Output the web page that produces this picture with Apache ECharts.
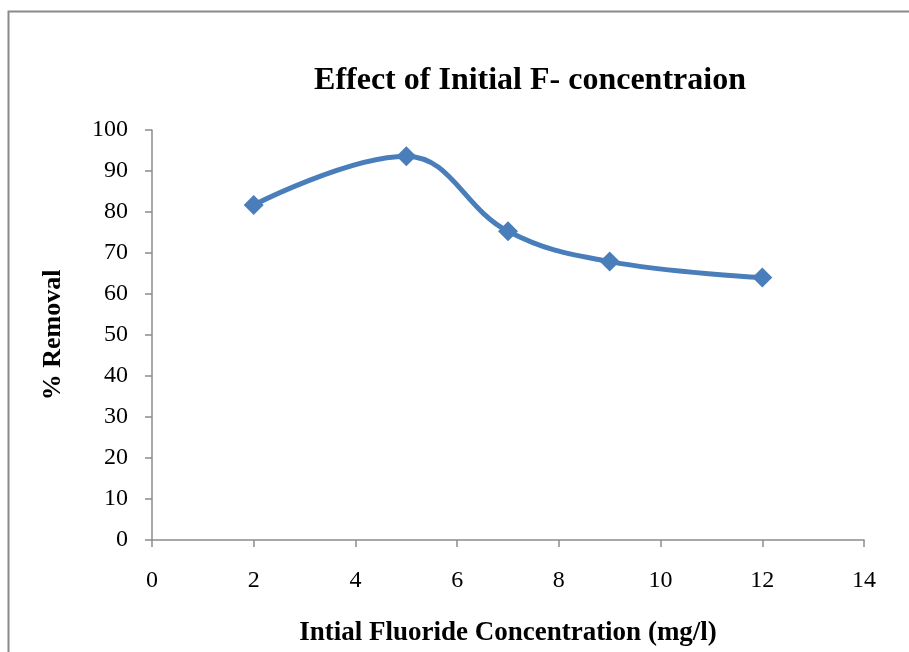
<!DOCTYPE html>
<html>
<head>
<meta charset="utf-8">
<script src="https://cdn.jsdelivr.net/npm/echarts@6/dist/echarts.min.js"></script>
<style>
  html, body { margin: 0; padding: 0; background: #fff; overflow: hidden; }
  #chart { width: 909px; height: 652px; }
</style>
</head>
<body>
<div id="chart"></div>
<script>
// Initial fluoride concentration (mg/l) and percentage removal
const concentration = [2, 5, 7, 9, 12];
const removal = [81.7, 93.6, 75.3, 67.9, 64.0];
const xTicks = [0, 2, 4, 6, 8, 10, 12, 14];
const yTicks = [0, 10, 20, 30, 40, 50, 60, 70, 80, 90, 100];

const serif = '"Liberation Serif", "Times New Roman", serif';
const axisGray = '#8c8c8c';

const chart = echarts.init(document.getElementById('chart'), null, { renderer: 'canvas' });
chart.setOption({
  animation: false,
  backgroundColor: '#fff',
  graphic: [{
    type: 'polyline',
    shape: { points: [[8.5, 660], [8.5, 11.5], [915, 11.5]] },
    style: { stroke: '#8a8a8a', lineWidth: 2, fill: null },
    silent: true
  }],
  title: {
    text: 'Effect of Initial F- concentraion',
    left: 525, top: 60, textAlign: 'center',
    textStyle: { fontFamily: serif, fontWeight: 'bold', fontSize: 32, color: '#000' }
  },
  grid: { left: 152, right: 45, top: 130, bottom: 110, containLabel: false },
  xAxis: {
    type: 'value',
    min: xTicks[0], max: xTicks[xTicks.length - 1], interval: 2,
    name: 'Intial Fluoride Concentration (mg/l)',
    nameLocation: 'middle', nameGap: 80,
    nameTextStyle: { fontFamily: serif, fontWeight: 'bold', fontSize: 27, color: '#000' },
    axisLine: { show: true, onZero: false, lineStyle: { color: axisGray, width: 1.5 } },
    axisTick: { show: true, inside: false, length: 7, lineStyle: { color: axisGray, width: 1.5 } },
    axisLabel: { margin: 29, fontFamily: serif, fontSize: 24, color: '#000' },
    splitLine: { show: false }
  },
  yAxis: {
    type: 'value',
    min: yTicks[0], max: yTicks[yTicks.length - 1], interval: 10,
    name: '% Removal',
    nameLocation: 'middle', nameGap: 86, nameRotate: 90,
    nameTextStyle: { fontFamily: serif, fontWeight: 'bold', fontSize: 26, color: '#000' },
    axisLine: { show: true, lineStyle: { color: axisGray, width: 1.5 } },
    axisTick: { show: true, inside: false, length: 7, lineStyle: { color: axisGray, width: 1.5 } },
    axisLabel: { margin: 24, fontFamily: serif, fontSize: 24, color: '#000' },
    splitLine: { show: false }
  },
  series: [{
    type: 'line',
    data: concentration.map((x, i) => [x, removal[i]]),
    smooth: 0.4,
    symbol: 'diamond',
    symbolSize: 20,
    itemStyle: { color: '#4A7EBB' },
    lineStyle: { color: '#4A7EBB', width: 5 }
  }]
});
</script>
</body>
</html>
